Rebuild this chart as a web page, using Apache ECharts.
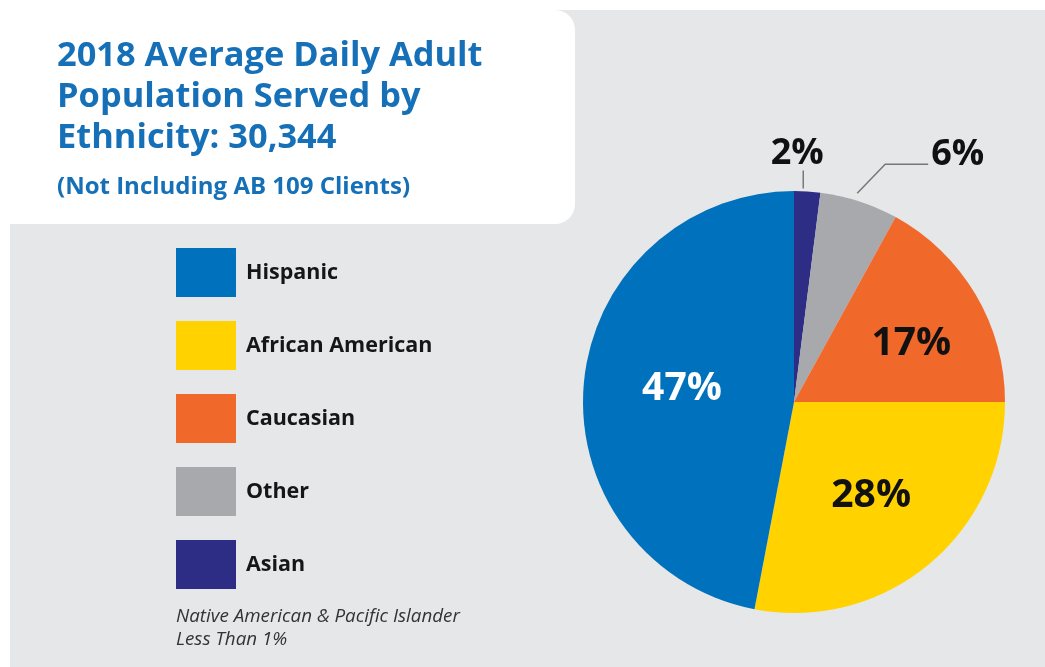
<!DOCTYPE html>
<html>
<head>
<meta charset="utf-8">
<script src="https://cdn.jsdelivr.net/npm/echarts@6/dist/echarts.min.js"></script>
<style>
  html, body { margin: 0; padding: 0; background: #ffffff; }
  #chart { width: 1045px; height: 667px; }
</style>
</head>
<body>
<div id="chart"></div>
<script>
// ---- data ----
const categories = ['Asian', 'Other', 'Caucasian', 'African American', 'Hispanic']; // clockwise from 12 o'clock
const values = [2, 6, 17, 28, 47];
const legendOrder = ['Hispanic', 'African American', 'Caucasian', 'Other', 'Asian'];
const titleText = '2018 Average Daily Adult\nPopulation Served by\nEthnicity: 30,344';
const subtitleText = '(Not Including AB 109 Clients)';
const footnoteText = 'Native American & Pacific Islander\nLess Than 1%';

// ---- styles ----
const colorMap = {
  'Hispanic': '#0071bc',
  'African American': '#ffd200',
  'Caucasian': '#f0692a',
  'Other': '#a7a9ac',
  'Asian': '#2e2d85'
};
const FONT = '"Open Sans", "Liberation Sans", sans-serif';
const outsideNames = ['Asian', 'Other'];
const insideShift = { 'Hispanic': [-4, -3], 'African American': [8, 10], 'Caucasian': [24, -3] };

const pieData = categories.map((name, i) => {
  const outside = outsideNames.indexOf(name) >= 0;
  return {
    name: name,
    value: values[i],
    itemStyle: { color: colorMap[name] },
    label: outside
      ? { position: 'outside', color: '#111', fontSize: 36 }
      : { position: 'inside', color: name === 'Hispanic' ? '#ffffff' : '#111', fontSize: 39 },
    labelLine: outside
      ? { show: true, length: 18, length2: 0, lineStyle: { color: '#77787b', width: 1.5 } }
      : { show: false }
  };
});

const chart = echarts.init(document.getElementById('chart'), null, { renderer: 'canvas' });

chart.setOption({
  animation: false,
  backgroundColor: '#ffffff',
  graphic: [
    { type: 'rect', z: -20, silent: true,
      shape: { x: 10, y: 10, width: 1035, height: 657 },
      style: { fill: '#e6e7e8' } },
    { type: 'rect', z: -10, silent: true,
      shape: { x: 0, y: 10, width: 575, height: 214, r: [0, 20, 20, 0] },
      style: { fill: '#ffffff' } }
  ],
  title: [
    { text: titleText, left: 57, top: 36, padding: 0,
      textStyle: { fontFamily: FONT, fontSize: 34.4, fontWeight: 'bold', color: '#1670b8', lineHeight: 41 } },
    { text: subtitleText, left: 57, top: 173, padding: 0,
      textStyle: { fontFamily: FONT, fontSize: 24, fontWeight: 'bold', color: '#1670b8', lineHeight: 28 } },
    { text: footnoteText, left: 176, top: 605, padding: 0,
      textStyle: { fontFamily: FONT, fontSize: 18.8, fontWeight: 'normal', fontStyle: 'italic', color: '#333333', lineHeight: 23 } }
  ],
  legend: {
    data: legendOrder,
    orient: 'vertical',
    left: 176,
    top: 248,
    padding: 0,
    icon: 'rect',
    itemWidth: 60,
    itemHeight: 49,
    itemGap: 24,
    selectedMode: false,
    textStyle: { fontFamily: FONT, fontSize: 21.5, fontWeight: 'bold', color: '#161616', padding: [0, 0, 0, 5] }
  },
  series: [{
    type: 'pie',
    center: [794, 402],
    radius: 211,
    startAngle: 90,
    clockwise: true,
    avoidLabelOverlap: false,
    silent: true,
    itemStyle: { borderWidth: 0 },
    emphasis: { disabled: true },
    label: { show: true, formatter: '{c}%', fontFamily: FONT, fontWeight: 'bold' },
    labelLayout: function (params) {
      const name = categories[params.dataIndex];
      if (insideShift[name]) {
        return { dx: insideShift[name][0], dy: insideShift[name][1] };
      }
      const pts = params.labelLinePoints;
      if (!pts) return {};
      const a = pts[0];
      if (name === 'Asian') {
        return {
          x: a[0] - 10, y: a[1] - 20,
          align: 'center', verticalAlign: 'bottom',
          labelLinePoints: [[a[0] - 4, a[1] - 3], [a[0] - 4, a[1] - 21], [a[0] - 4, a[1] - 21]]
        };
      }
      if (name === 'Other') {
        return {
          x: a[0] + 72, y: a[1] - 47,
          align: 'left', verticalAlign: 'middle',
          labelLinePoints: [[a[0] - 2, a[1] - 8], [a[0] + 26, a[1] - 37], [a[0] + 69, a[1] - 37]]
        };
      }
      return {};
    },
    data: pieData
  }]
});
</script>
</body>
</html>
